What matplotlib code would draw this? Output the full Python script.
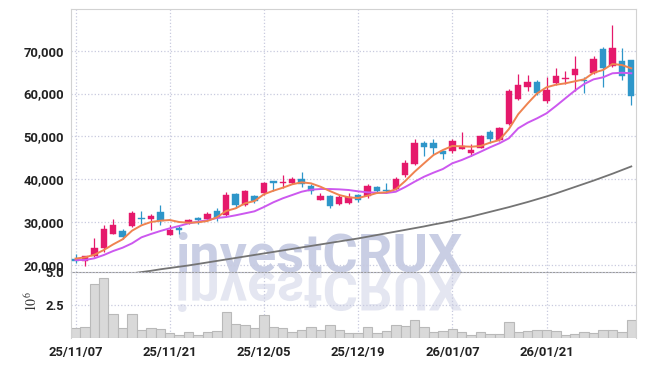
import matplotlib
matplotlib.use('Agg')
import matplotlib.pyplot as plt
import numpy as np
from matplotlib import font_manager
from matplotlib.font_manager import FontProperties
from matplotlib.textpath import TextPath
from matplotlib.patches import PathPatch
from matplotlib.transforms import Affine2D

# ---------------- data ----------------
opens  = [21450, 20870, 22100, 24000, 27300, 27950, 29000, 31050, 30800, 32350,
          27050, 28700, 29800, 31000, 30750, 32600, 31600, 36550, 34000, 36100,
          36850, 39600, 39250, 39150, 40050, 38450, 35250, 36100, 34250, 34450,
          36350, 36150, 38200, 37500, 37650, 41000, 43550, 48400, 48400, 46600,
          46650, 47150, 46150, 47350, 51100, 49150, 52850, 58800, 61600, 62750,
          58350, 62550, 63500, 64350, 63150, 64750, 70450, 66450, 67600, 67850]
highs  = [22500, 22100, 26400, 29300, 30650, 28500, 32500, 32600, 31900, 34000,
          29400, 29100, 30700, 31300, 32350, 33300, 37100, 36850, 37500, 36350,
          39350, 39700, 40900, 40600, 41650, 38950, 36700, 36300, 36350, 36700,
          36500, 38850, 38450, 39050, 40550, 44500, 49350, 48950, 49350, 46700,
          49350, 50950, 48300, 50250, 51450, 52150, 61000, 64500, 64250, 63100,
          63950, 65900, 65250, 68850, 63950, 68750, 70950, 76000, 70650, 67900]
lows   = [20400, 19800, 21900, 23000, 27200, 26000, 28900, 29600, 28150, 29300,
          26900, 27150, 29600, 29600, 30600, 30350, 31400, 33250, 33800, 34400,
          36250, 37350, 37950, 38900, 38200, 36500, 35100, 33350, 34100, 34300,
          34650, 35650, 36850, 36750, 37500, 40550, 43250, 45350, 45900, 44650,
          46050, 47000, 45450, 47200, 48450, 49000, 52600, 58600, 60600, 59650,
          57900, 61900, 62150, 60600, 60200, 64500, 61500, 66300, 63150, 57300]
closes = [21000, 22000, 23900, 28400, 29250, 26600, 32200, 30750, 31450, 30250,
          28150, 28250, 30400, 30500, 31950, 30950, 36350, 34050, 37200, 34950,
          39050, 39150, 39350, 40150, 38850, 37200, 36150, 33850, 35850, 35950,
          35100, 38350, 37250, 37350, 40000, 43800, 48400, 47600, 47300, 45950,
          48950, 47750, 46850, 50050, 49450, 51950, 60600, 62000, 62750, 60150,
          60850, 64100, 63600, 65750, 63050, 68000, 65950, 70700, 64100, 59500]

ma5 = [21500, 21780, 22400, 23500, 24820, 26000, 28010, 29260, 30030, 30340,
       30500, 30030, 29870, 29950, 30270, 31130, 32600, 33230, 34400, 34930,
       36500, 37330, 38030, 38830, 39290, 39060, 38270, 37260, 36330, 35790,
       35630, 36170, 36800, 36960, 37660, 39600, 41770, 43730, 45660, 46830,
       47770, 47690, 47600, 47770, 48540, 49160, 51700, 55200, 57700, 60050,
       61460, 62070, 62390, 62860, 63320, 64870, 65500, 66900, 66660, 65890]
ma10 = [21170, 21170, 21560, 22330, 23270, 24040, 25060, 26460, 27230, 27930,
        28560, 29100, 29720, 30100, 30450, 30970, 31200, 31600, 32060, 32530,
        33530, 34630, 35560, 36330, 37100, 37570, 37730, 37730, 37650, 37500,
        37190, 36960, 36870, 36800, 37100, 38200, 39440, 40600, 41540, 42400,
        43730, 44500, 45430, 46430, 47460, 48400, 49560, 51900, 53200, 54230,
        55390, 57100, 58890, 60670, 62230, 63320, 63790, 64730, 64860, 64730]
ma_long = [16000, 16350, 16700, 17050, 17400, 17750, 18050, 18350, 18650, 19000,
           19300, 19600, 19900, 20250, 20600, 20950, 21300, 21650, 22000, 22350,
           22700, 23050, 23400, 23750, 24100, 24450, 24800, 25150, 25500, 25850,
           26200, 26600, 27000, 27400, 27800, 28200, 28600, 29000, 29450, 29850,
           30300, 30800, 31300, 31850, 32400, 32950, 33500, 34100, 34700, 35350,
           36000, 36700, 37450, 38200, 38950, 39700, 40500, 41300, 42150, 43000]

volume_millions = [0.73, 0.80, 4.07, 4.52, 1.82, 0.73, 1.82, 0.61, 0.73, 0.66,
                   0.35, 0.20, 0.43, 0.20, 0.43, 0.53, 1.95, 1.06, 0.96, 0.73,
                   1.72, 0.80, 0.73, 0.43, 0.61, 0.80, 0.61, 0.96, 0.61, 0.35,
                   0.40, 0.81, 0.35, 0.53, 0.96, 0.91, 1.36, 0.81, 0.48, 0.53,
                   0.68, 0.43, 0.20, 0.43, 0.28, 0.28, 1.19, 0.45, 0.56, 0.61,
                   0.61, 0.53, 0.23, 0.30, 0.43, 0.40, 0.61, 0.61, 0.45, 1.36]

date_tick_index = [0, 10, 20, 30, 40, 50]
date_tick_labels = ['25/11/07', '25/11/21', '25/12/05', '25/12/19', '26/01/07', '26/01/21']
price_ticks = [20000, 30000, 40000, 50000, 60000, 70000]
volume_ticks = [2.5, 5.0]

# ---------------- style ----------------
RED = '#e5196b'
BLUE = '#2e96c9'
GRID = '#c8cadf'
SPINE = '#d2d2d2'
TXT = '#222222'

names = {f.name for f in font_manager.fontManager.ttflist}
if 'Liberation Sans Narrow' in names:
    lab_family = 'Liberation Sans Narrow'
    lab_size = 10.5
elif 'Roboto' in names:
    lab_family = 'Roboto'
    lab_size = 9.4
else:
    lab_family = 'DejaVu Sans'
    lab_size = 8.5
lab_fp = FontProperties(family=lab_family, weight='bold', size=lab_size)
wm_family = 'Roboto' if 'Roboto' in names else 'DejaVu Sans'

W, H = 645, 366
fig = plt.figure(figsize=(W / 100, H / 100), dpi=100)
fig.patch.set_facecolor('white')

L, R, T, MID, B = 71, 636, 9, 272, 338
ax = fig.add_axes([L / W, 1 - MID / H, (R - L) / W, (MID - T) / H])
axv = fig.add_axes([L / W, 1 - B / H, (R - L) / W, (B - MID) / H], sharex=ax)
for a in (ax, axv):
    a.set_facecolor('none')

# watermark (behind axes): fit "investCRUX" to span x 178..462 px
wm_fp = FontProperties(family=wm_family, weight='bold')
tp1 = TextPath((0, 0), 'investCRUX', size=1, prop=wm_fp)
e1 = tp1.get_extents()
em_px = (462 - 178) / (e1.x1 - e1.x0)
wm_x = 178 - e1.x0 * em_px
base_disp = H - MID
fig.text(wm_x / W, base_disp / H, 'investCRUX',
         fontproperties=FontProperties(family=wm_family, weight='bold', size=em_px * 72 / 100),
         color='#c9cee4', ha='left', va='baseline', zorder=-2)
tp = TextPath((0, 0), 'investCRUX', size=em_px, prop=wm_fp)
tr_ref = Affine2D().scale(1, -1).translate(wm_x, base_disp)
fig.add_artist(PathPatch(tp, transform=tr_ref, facecolor='#e4e6f1', edgecolor='none', zorder=-2))

x = np.arange(len(closes))
o = np.array(opens, float)
c = np.array(closes, float)
hi = np.array(highs, float)
lo = np.array(lows, float)
up = c >= o
cols = np.where(up, RED, BLUE)

ax.vlines(x, lo, hi, colors=cols, lw=0.9, zorder=3)
diff = np.abs(c - o)
minh = 180.0
hgt = np.maximum(diff, minh)
bot = np.minimum(o, c) - (hgt - diff) / 2
ax.bar(x, hgt, bottom=bot, width=0.68, color=cols, edgecolor=cols, lw=0.3, zorder=4)

ax.plot(x, ma_long, color='#747474', lw=1.3, zorder=5)
ax.plot(x, ma10, color='#cc58ef', lw=1.4, zorder=5)
ax.plot(x, ma5, color='#ef8350', lw=1.4, zorder=6)

ax.set_xlim(-0.48, 59.5)
ax.set_ylim(18370, 79730)
ax.set_yticks(price_ticks)
ax.set_yticklabels([f'{v:,}' for v in price_ticks], fontproperties=lab_fp, color=TXT)
ax.set_xticks(date_tick_index)
ax.tick_params(axis='x', labelbottom=False, length=0)
ax.tick_params(axis='y', length=0, pad=5)
ax.grid(True, ls=':', color=GRID, lw=0.9, zorder=0)
ax.set_axisbelow(True)
for s in ('top', 'left', 'right'):
    ax.spines[s].set_color(SPINE)
ax.spines['bottom'].set_color('#9a9a9a')

axv.bar(x, volume_millions, width=1.0, color='#d9d9d9', edgecolor='#b9b9b9', lw=0.8, zorder=2)
axv.set_ylim(0, 5.0)
axv.set_yticks(volume_ticks)
axv.set_yticklabels([f'{v:.1f}' for v in volume_ticks], fontproperties=lab_fp, color=TXT)
axv.set_xticks(date_tick_index)
axv.set_xticklabels(date_tick_labels, fontproperties=lab_fp, color=TXT)
axv.tick_params(axis='both', length=0)
axv.tick_params(axis='y', pad=5)
axv.tick_params(axis='x', pad=6)
axv.grid(True, ls=':', color=GRID, lw=0.9, zorder=0)
axv.set_axisbelow(True)
axv.spines['top'].set_visible(False)
axv.spines['bottom'].set_visible(False)
axv.spines['left'].set_color(SPINE)
axv.spines['right'].set_color(SPINE)

fig.text(32 / W, 1 - 302 / H, r'$10^6$', rotation=90, ha='center', va='center',
         fontsize=10, math_fontfamily='stix', color='#333333')

fig.savefig('out.png', dpi=100, facecolor='white')
